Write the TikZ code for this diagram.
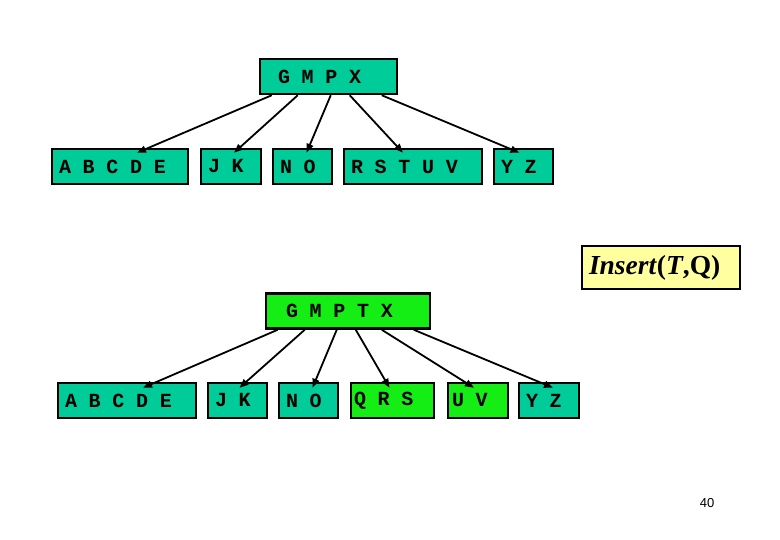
\documentclass[tikz,border=0pt]{standalone}
\usepackage{fontspec}
\usepackage{xcolor}
\usepackage{tikz}
\usetikzlibrary{positioning, arrows.meta, calc}
\setmainfont{Liberation Serif}
\newfontfamily\keyfont{Liberation Mono}
\newfontfamily\pagefont{Liberation Sans}
\definecolor{oldgreen}{RGB}{0,204,153}
\definecolor{newgreen}{RGB}{20,238,20}
\definecolor{notecolor}{RGB}{255,255,160}

\begin{document}
\begin{tikzpicture}[x=1pt, y=-1pt,
		keybox/.style={draw, line width=2.5pt, minimum height=35pt, inner ysep=0pt,
			inner xsep=7pt, align=left, font=\keyfont\bfseries\fontsize{20}{20}\selectfont,
			execute at begin node={\spaceskip=11.7pt\relax}},
		oldbox/.style={keybox, fill=oldgreen},
		newbox/.style={keybox, fill=newgreen},
		ptr/.style={-{Triangle[length=9pt, width=7pt]}, line width=1.8pt}]
		
		% Page
		\useasboundingbox (0,0) rectangle (780,540);
		
		% Tree before the insert
		\node[oldbox, inner xsep=18pt, text width=101pt] (rootA) at (328.5,76.5) {G M P X};
		\node[oldbox, text width=122pt] (abcdeA) at (120,166.5) {A B C D E};
		\node[oldbox, text width=46pt] (jkA) at (231,166.5) {J K};
		\node[oldbox, text width=45pt] (noA) at (302.5,166.5) {N O};
		\node[oldbox, text width=124pt] (rstuvA) at (413,166.5) {R S T U V};
		\node[oldbox, text width=45pt] (yzA) at (523.5,166.5) {Y Z};
		
		% Pointers
		\draw[ptr] ([xshift=13pt]rootA.south west) -- ([xshift=17pt, yshift=-5pt]abcdeA.north);
		\draw[ptr] ([xshift=39pt]rootA.south west) -- ([xshift=3pt, yshift=-5pt]jkA.north);
		\draw[ptr] ([xshift=72pt]rootA.south west) -- ([xshift=4pt, yshift=-5pt]noA.north);
		\draw[ptr] ([xshift=91pt]rootA.south west) -- ([xshift=-10pt, yshift=-5pt]rstuvA.north);
		\draw[ptr] ([xshift=123pt]rootA.south west) -- ([xshift=-4pt, yshift=-5pt]yzA.north);
		
		% Operation
		\node[draw, line width=2.5pt, fill=notecolor, inner xsep=7pt, text width=144pt,
			align=left, minimum height=43pt, font=\fontsize{27.5}{27.5}\selectfont] (insert)
			at (661,267.5) {\textbf{\textit{Insert}(\textit{T},Q)}};
		
		% Tree after the insert
		\node[newbox, inner xsep=20pt, text width=124pt] (rootB) at (348,311) {G M P T X};
		\node[oldbox, text width=124pt] (abcdeB) at (127,400.5) {A B C D E};
		\node[oldbox, text width=45pt] (jkB) at (237.5,400.5) {J K};
		\node[oldbox, text width=45pt] (noB) at (308.5,400.5) {N O};
		\node[newbox, inner xsep=3pt, text width=77pt] (qrsB) at (392.5,400.5) {Q R S};
		\node[newbox, inner xsep=4pt, text width=52pt] (uvB) at (478,400.5) {U V};
		\node[oldbox, text width=46pt] (yzB) at (549,400.5) {Y Z};
		
		% Pointers
		\draw[ptr] ([xshift=13pt]rootB.south west) -- ([xshift=16pt, yshift=-6pt]abcdeB.north);
		\draw[ptr] ([xshift=40pt]rootB.south west) -- ([xshift=2pt, yshift=-6pt]jkB.north);
		\draw[ptr] ([xshift=72pt]rootB.south west) -- ([xshift=4pt, yshift=-6pt]noB.north);
		\draw[ptr] ([xshift=91pt]rootB.south west) -- ([xshift=-3pt, yshift=-6pt]qrsB.north);
		\draw[ptr] ([xshift=117pt]rootB.south west) -- ([xshift=-4pt, yshift=-6pt]uvB.north);
		\draw[ptr] ([xshift=149pt]rootB.south west) -- ([xshift=4pt, yshift=-6pt]yzB.north);
		
		% Page number
		\node[font=\pagefont\fontsize{13}{13}\selectfont] (pagenum) at (707,503) {40};
		
	\end{tikzpicture}
\end{document}
